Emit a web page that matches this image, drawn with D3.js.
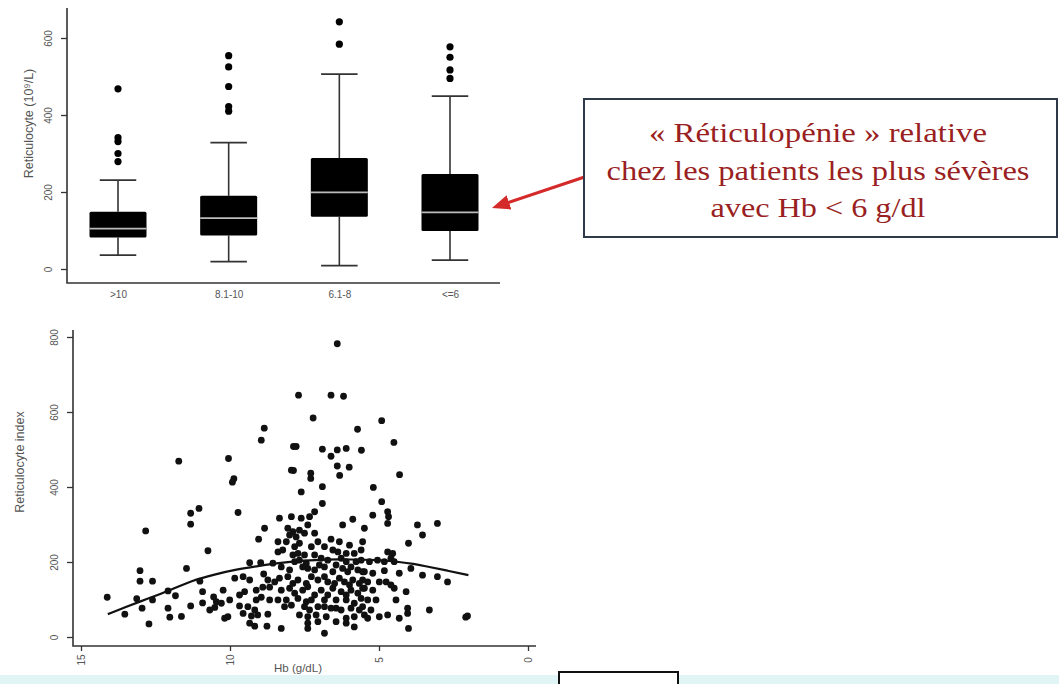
<!DOCTYPE html>
<html><head><meta charset="utf-8">
<script src="https://cdn.jsdelivr.net/npm/d3@7"></script>
<style>body{margin:0;background:#fff}svg{display:block}</style>
</head><body><svg id="c" width="1059" height="684"></svg>
<script>
// ---- top boxplot data (Reticulocyte 10^9/L by Hb group) ----
const groups = [">10", "8.1-10", "6.1-8", "<=6"];
const q1 = [82, 87, 136, 99];
const med = [105, 132, 199, 147];
const q3 = [149, 190, 288, 247];
const whiskLo = [36, 19, 9, 23];
const whiskHi = [231, 328, 506, 449];
const outliers = [[468, 341, 331, 300, 279], [554, 525, 474, 422, 410], [642, 584], [577, 550, 517, 495]];
const boxTicks = [0, 200, 400, 600];

// ---- scatter data (Hb g/dL vs reticulocyte index) ----
const scatterHb = [
6.40,7.70,6.61,6.19,7.21,4.91,8.85,5.72,8.95,4.50,7.87,7.78,6.90,6.40,6.10,5.59,6.61,11.72,10.05,6.40,
6.00,7.94,7.87,7.29,7.29,6.32,4.31,9.87,9.92,6.90,5.19,7.61,6.90,4.91,
11.32,11.32,12.83,13.02,13.02,12.60,11.46,14.12,13.13,12.60,12.08,11.83,13.53,12.95,12.08,12.02,11.63,11.32,12.72,
11.04,9.73,8.84,9.04,10.74,9.34,8.97,8.56,9.84,9.56,9.34,8.87,8.73,8.50,11.01,10.92,10.92,10.55,10.46,10.29,10.51,
9.68,9.51,9.12,8.90,8.95,8.67,9.68,9.40,9.17,9.56,9.28,9.07,8.73,10.07,10.18,9.34,9.17,8.76,
8.34,7.94,7.61,7.33,7.16,8.06,7.89,7.67,8.00,7.78,7.50,7.39,7.16,6.22,5.88,8.39,8.11,7.67,7.05,6.61,6.33,
8.39,5.99,6.38,5.83,7.89,7.72,7.50,7.16,7.83,7.67,7.44,6.94,6.72,6.27,6.10,5.77,8.28,8.00,7.39,7.16,6.83,
6.55,6.22,6.05,5.71,8.34,8.06,7.72,7.27,7.05,6.72,6.33,6.16,5.88,5.66,8.28,8.00,7.56,7.39,6.94,6.55,6.27,
5.94,5.71,8.39,8.11,7.72,7.44,7.27,6.83,6.44,6.10,5.83,8.17,7.50,7.33,7.05,6.61,6.27,5.94,7.67,7.39,7.11,
6.77,6.10,5.83,7.39,7.39,5.83,8.28,6.83,
5.21,4.71,4.68,4.71,5.49,3.71,3.04,3.54,5.55,4.01,4.71,4.54,5.60,5.32,5.05,4.82,4.60,4.49,3.93,5.49,4.82,
3.54,3.04,2.70,5.55,5.38,4.99,4.76,4.60,4.49,5.49,5.21,4.09,5.60,5.38,5.55,4.04,4.04,3.31,5.49,5.38,4.99,
4.71,4.32,4.01,2.09,2.03,
8.23,7.83,7.27,6.83,6.55,6.10,5.60,7.56,7.00,6.44,5.94,5.55,7.89,7.44,6.83,6.49,5.99,5.55,7.83,7.16,6.72,6.10,
7.94,6.83,6.44,5.66,7.05,6.44,6.10,8.67,9.12,10.01,10.23,10.68,5.21,5.10,5.27,4.32,4.43
];
const scatterRI = [
782,645,645,642,584,577,557,554,525,519,508,508,501,499,503,498,482,469,476,456,
453,445,444,437,423,431,433,422,413,401,399,387,356,361,
330,301,283,177,149,149,183,106,102,99,123,110,61,77,77,53,55,83,35,
343,332,290,261,230,198,198,197,157,161,152,168,152,147,149,121,91,107,94,90,79,
112,121,125,133,106,99,83,81,72,63,56,59,61,54,50,37,29,29,
317,321,317,321,334,290,281,285,272,267,277,299,277,299,314,254,254,250,254,261,254,
227,245,227,223,219,223,219,219,201,205,197,210,205,210,201,201,187,179,183,179,187,
174,183,174,179,157,161,152,161,152,147,157,147,152,143,125,130,125,134,125,130,121,
125,117,99,99,103,94,99,99,99,99,90,81,81,72,81,77,72,77,59,54,59,
54,50,54,37,23,27,23,10,
325,334,321,303,290,299,303,272,254,250,227,223,205,201,205,201,210,201,183,174,177,
165,161,147,152,147,147,147,139,130,130,125,121,103,99,81,77,63,72,59,50,54,
59,50,23,53,56,
232,241,241,241,232,223,232,187,192,192,187,174,143,143,161,143,139,130,117,112,112,112,
85,81,77,72,41,41,37,133,99,99,125,72,170,99,72,170,99
];
// smooth fitted curve
const fitHb = [14.1, 13.5, 13.0, 12.5, 12.0, 11.3, 10.5, 9.8, 9.0, 8.3, 7.5, 6.8, 6.0, 5.0, 4.5, 3.8, 3.4, 2.7, 2.0];
const fitRI = [61, 80, 95, 110, 125, 150, 167, 180, 190, 198, 204, 207, 207, 205, 202, 195, 188, 177, 165];
const hbTicks = [15, 10, 5, 0];
const riTicks = [0, 200, 400, 600, 800];

const noteLines = ["« Réticulopénie » relative", "chez les patients les plus sévères", "avec Hb < 6 g/dl"];

(function () {
const svg = d3.select("#c");
svg.append("rect").attr("width", 1059).attr("height", 684).attr("fill", "#fff");
const FONT = "'Liberation Sans', Arial, sans-serif";
const AX = "#333";

// ================= TOP BOXPLOT =================
const xB = d3.scaleLinear().domain([1, 4]).range([118, 450]);
const yB = d3.scaleLinear().domain([0, 600]).range([269, 38]);
const unit = xB(2) - xB(1);
const topG = svg.append("g");

topG.append("path").attr("d", "M67,8V283H500").attr("fill", "none").attr("stroke", AX).attr("stroke-width", 1.6);

const yAxB = topG.append("g").attr("transform", "translate(67,0)")
  .call(d3.axisLeft(yB).tickValues(boxTicks).tickSize(6));
yAxB.select(".domain").remove();
yAxB.selectAll("line").attr("stroke", AX).attr("stroke-width", 1.3);
yAxB.selectAll("text").attr("x", 0).attr("dy", "0.35em").attr("text-anchor", "middle")
  .attr("transform", "translate(-19,0) rotate(-90)")
  .style("font-family", FONT).style("font-size", "10px").attr("fill", "#555");

const xAxB = topG.append("g").attr("transform", "translate(0,283)")
  .call(d3.axisBottom(xB).tickValues([1, 2, 3, 4]).tickFormat(d => groups[d - 1]).tickSize(0).tickPadding(8));
xAxB.select(".domain").remove();
xAxB.selectAll("text").style("font-family", FONT).style("font-size", "10px").attr("fill", "#555");

topG.append("text").attr("transform", `translate(29,${(yB(0) + yB(600)) / 2 - 30}) rotate(-90)`)
  .attr("text-anchor", "middle").attr("dy", "0.35em")
  .style("font-family", FONT).style("font-size", "12.5px").attr("fill", "#555")
  .text("Reticulocyte (10⁹/L)");

groups.forEach((g, i) => {
  const cx = xB(i + 1), bw = unit * 0.515, cw = unit * 0.33;
  const grp = topG.append("g");
  grp.append("line").attr("x1", cx).attr("x2", cx).attr("y1", yB(whiskLo[i])).attr("y2", yB(q1[i])).attr("stroke", "#333").attr("stroke-width", 1.6);
  grp.append("line").attr("x1", cx).attr("x2", cx).attr("y1", yB(q3[i])).attr("y2", yB(whiskHi[i])).attr("stroke", "#333").attr("stroke-width", 1.6);
  grp.append("line").attr("x1", cx - cw / 2).attr("x2", cx + cw / 2).attr("y1", yB(whiskLo[i])).attr("y2", yB(whiskLo[i])).attr("stroke", "#333").attr("stroke-width", 1.8);
  grp.append("line").attr("x1", cx - cw / 2).attr("x2", cx + cw / 2).attr("y1", yB(whiskHi[i])).attr("y2", yB(whiskHi[i])).attr("stroke", "#333").attr("stroke-width", 1.8);
  grp.append("rect").attr("x", cx - bw / 2).attr("width", bw).attr("y", yB(q3[i])).attr("height", yB(q1[i]) - yB(q3[i]))
    .attr("fill", "#000").attr("rx", 1.5);
  grp.append("line").attr("x1", cx - bw / 2).attr("x2", cx + bw / 2).attr("y1", yB(med[i])).attr("y2", yB(med[i])).attr("stroke", "#bbb").attr("stroke-width", 1.8);
  grp.selectAll("circle.o").data(outliers[i]).join("circle").attr("class", "o")
    .attr("cx", cx).attr("cy", d => yB(d)).attr("r", 3.6).attr("fill", "#000");
});

// ================= SCATTER =================
const xS = d3.scaleLinear().domain([15, 0]).range([81, 528]);
const yS = d3.scaleLinear().domain([0, 800]).range([637, 337]);
const sc = svg.append("g");
sc.append("path").attr("d", "M73,330V646H536").attr("fill", "none").attr("stroke", AX).attr("stroke-width", 1.6);

const yAxS = sc.append("g").attr("transform", "translate(73,0)")
  .call(d3.axisLeft(yS).tickValues(riTicks).tickSize(6));
yAxS.select(".domain").remove();
yAxS.selectAll("line").attr("stroke", AX).attr("stroke-width", 1.3);
yAxS.selectAll("text").attr("x", 0).attr("dy", "0.35em").attr("text-anchor", "middle")
  .attr("transform", "translate(-19,0) rotate(-90)")
  .style("font-family", FONT).style("font-size", "10px").attr("fill", "#555");

const xAxS = sc.append("g").attr("transform", "translate(0,646)")
  .call(d3.axisBottom(xS).tickValues(hbTicks).tickSize(5));
xAxS.select(".domain").remove();
xAxS.selectAll("line").attr("stroke", AX).attr("stroke-width", 1.3);
xAxS.selectAll("text").attr("y", 0).attr("dy", "0.35em").attr("text-anchor", "middle")
  .attr("transform", "translate(0,14) rotate(-90)")
  .style("font-family", FONT).style("font-size", "10px").attr("fill", "#555");

sc.append("text").attr("x", 298).attr("y", 672).attr("text-anchor", "middle")
  .style("font-family", FONT).style("font-size", "11.5px").attr("fill", "#555").text("Hb (g/dL)");
sc.append("text").attr("transform", "translate(20,462) rotate(-90)").attr("text-anchor", "middle").attr("dy", "0.35em")
  .style("font-family", FONT).style("font-size", "12.5px").attr("fill", "#555").text("Reticulocyte index");

const pts = scatterHb.map((h, i) => ({ h, r: scatterRI[i] }));
sc.selectAll("circle.p").data(pts).join("circle").attr("class", "p")
  .attr("cx", d => xS(d.h)).attr("cy", d => yS(d.r)).attr("r", 3.4).attr("fill", "#111");

const fit = fitHb.map((h, i) => [h, fitRI[i]]);
sc.append("path").datum(fit)
  .attr("d", d3.line().x(d => xS(d[0])).y(d => yS(d[1])).curve(d3.curveBasis))
  .attr("fill", "none").attr("stroke", "#111").attr("stroke-width", 2.2);

// ================= ANNOTATION =================
const defs = svg.append("defs");
defs.append("marker").attr("id", "ah").attr("viewBox", "0 0 10 10").attr("refX", 3.3).attr("refY", 5)
  .attr("markerUnits", "userSpaceOnUse").attr("markerWidth", 18).attr("markerHeight", 15)
  .attr("orient", "auto").attr("preserveAspectRatio", "none")
  .append("path").attr("d", "M0,0L10,5L0,10z").attr("fill", "#d42a2a");
svg.append("line").attr("x1", 586).attr("y1", 176.5).attr("x2", 503.4).attr("y2", 204.2)
  .attr("stroke", "#d42a2a").attr("stroke-width", 3.2).attr("marker-end", "url(#ah)");

svg.append("rect").attr("x", 584).attr("y", 99).attr("width", 473).attr("height", 138)
  .attr("fill", "#fff").attr("stroke", "#2e3a4a").attr("stroke-width", 2);
const lineY = [141.7, 180, 216.7], lineW = [338, 423, 215];
noteLines.forEach((t, i) => {
  svg.append("text").attr("x", 818).attr("y", lineY[i]).attr("text-anchor", "middle")
    .attr("textLength", lineW[i]).attr("lengthAdjust", "spacingAndGlyphs")
    .style("font-family", "'Liberation Serif', 'Times New Roman', serif").style("font-size", "27px")
    .attr("fill", "#9a1f22").text(t);
});

// ================= bottom strip =================
svg.append("rect").attr("x", 0).attr("y", 675).attr("width", 1059).attr("height", 9).attr("fill", "#e2f5f6");
svg.append("rect").attr("x", 559).attr("y", 672).attr("width", 119).attr("height", 16)
  .attr("fill", "#fff").attr("stroke", "#111").attr("stroke-width", 2);
})();
</script></body></html>
